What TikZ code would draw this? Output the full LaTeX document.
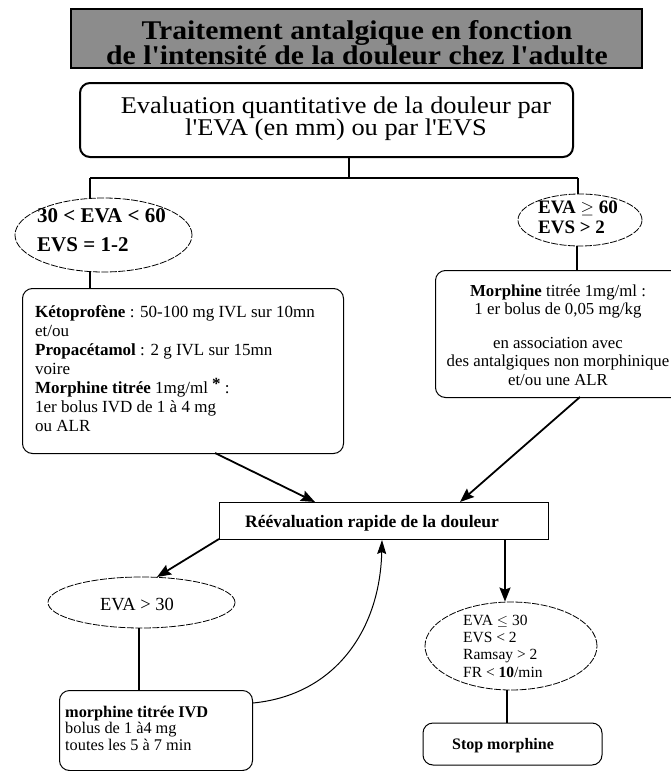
\documentclass[tikz,border=0pt]{standalone}
\usepackage{fontspec}
\setmainfont{Liberation Serif}
\newfontfamily\wideserif[FakeStretch=1.1]{Liberation Serif}
\usetikzlibrary{shapes.geometric,arrows.meta}
\begin{document}
\begin{tikzpicture}[x=1pt,y=-1pt,
  rbox/.style={draw,rounded corners=10pt,line width=1pt,inner sep=0pt},
  ell/.style={draw,ellipse,line width=0.8pt,dash pattern=on 7pt off 1.5pt,inner sep=0pt},
  conn/.style={line width=1.8pt},
  arr/.style={line width=1.8pt,-{Stealth[length=14pt,width=11pt,inset=2pt]}},
  arrthin/.style={line width=1pt,-{Stealth[length=14pt,width=9pt,inset=2pt]}},
  txt/.style={inner sep=0pt,anchor=base west,align=left},
  ctxt/.style={inner sep=0pt,anchor=base,align=center}]
\useasboundingbox (0,0) rectangle (671,771);
% title
\node[draw,line width=1.5pt,fill=black!45,minimum width=571pt,minimum height=59pt,inner sep=0pt] (title) at (356.5,38.5) {};
\node[ctxt,font=\wideserif\fontsize{27}{25}\selectfont\bfseries] (titletext) at (357,64)
  {Traitement antalgique en fonction\\de l'intensité de la douleur chez l'adulte};
% top box
\node[rbox,line width=2pt,minimum width=493pt,minimum height=74pt] (eval) at (326.5,120) {};
\node[ctxt,font=\wideserif\fontsize{24}{22}\selectfont] (evaltext) at (336,135)
  {Evaluation quantitative de la douleur par\\l'EVA (en mm) ou par l'EVS};
% ellipses
\node[ell,minimum width=177pt,minimum height=74pt] (e1) at (103.5,235) {};
\node[txt,font=\fontsize{21}{29}\selectfont\bfseries] (e1t) at (37,251) {30 < EVA < 60\\EVS = 1-2};
\node[ell,minimum width=124pt,minimum height=52pt] (e2) at (580,220) {};
\node[txt,font=\fontsize{19}{20}\selectfont\bfseries] (e2t) at (538,233) {EVA $\geq$ 60\\EVS > 2};
% junction
\coordinate (j0) at (349,178);
\coordinate (jl) at (90,178);
\coordinate (jr) at (578,178);
\draw[conn] (eval.south -| j0) -- (j0);
\draw[conn] (jl) -- (jr);
\draw[conn] (jl) -- (jl |- e1.north);
\draw[conn] (jr) -- (jr |- e2.north);
% left box
\node[rbox,minimum width=321pt,minimum height=165pt,anchor=north west] (b1) at (22,288) {};
\node[txt,font=\fontsize{17}{19}\selectfont] (t1) at (35,431)
  {\textbf{Kétoprofène} : 50-100 mg IVL sur 10mn\\
   et/ou\\
   \textbf{Propacétamol} : 2 g IVL sur 15mn\\
   voire\\
   \textbf{Morphine titrée} 1mg/ml \raisebox{4pt}{\textbf{*}} :\\
   1er bolus IVD de 1 à 4 mg\\
   ou ALR};
\draw[conn] (e1.south -| jl) -- (b1.north -| jl);
% right box
\node[rbox,minimum width=255pt,minimum height=127pt,anchor=north west] (b2) at (435,270) {};
\node[ctxt,font=\fontsize{16.8}{18.5}\selectfont] (t2) at (558,385)
  {\textbf{Morphine} titrée 1mg/ml :\\
   1 er bolus de 0,05 mg/kg\\[15pt]
   en association avec\\
   des antalgiques non morphinique\\
   et/ou une ALR};
\draw[conn] (e2.south -| 577,0) -- (b2.north -| 577,0);
% reevaluation box
\node[draw,line width=1pt,minimum width=329pt,minimum height=37pt,inner sep=0pt] (re) at (383.5,520.5) {};
\node[ctxt,font=\fontsize{17.5}{19}\selectfont\bfseries] (ret) at (372,527) {Réévaluation rapide de la douleur};
\coordinate (a1s) at (215,453);
\coordinate (a1e) at (315,502);
\coordinate (a2s) at (580,397);
\coordinate (a2e) at (460,502);
\draw[arr] (a1s) -- (a1e);
\draw[arr] (a2s) -- (a2e);
% EVA > 30
\node[ell,minimum width=187pt,minimum height=51pt] (e3) at (141.5,602.5) {};
\node[ctxt,font=\fontsize{18.5}{20}\selectfont] (e3t) at (137,610) {EVA > 30};
\coordinate (a3s) at (219,539);
\draw[arr] (a3s) -- (157,577);
% morphine box
\node[rbox,minimum width=193pt,minimum height=80pt,anchor=north west] (b3) at (59,690) {};
\node[txt,font=\fontsize{16.3}{16.5}\selectfont] (t3) at (65,750)
  {\textbf{morphine titrée IVD}\\bolus de 1 à4 mg\\toutes les 5 à 7 min};
\draw[conn] (e3.south -| 139,0) -- (b3.north -| 139,0);
% curved return
\coordinate (cend) at (382,540);
\draw[arrthin] (b3.east |- 0,703) .. controls (335,695) and (380,630) .. (cend);
% right ellipse
\node[ell,minimum width=172pt,minimum height=88pt] (e4) at (511,646) {};
\node[txt,font=\fontsize{15.5}{17.3}\selectfont] (e4t) at (463,677)
  {EVA $\leq$ 30\\EVS < 2\\Ramsay > 2\\FR < \textbf{10}/min};
\coordinate (a4s) at (505,539);
\draw[arr] (a4s) -- (a4s |- e4.north);
% stop
\node[rbox,minimum width=179pt,minimum height=42pt] (stop) at (512.5,744) {};
\node[ctxt,font=\fontsize{16}{18}\selectfont\bfseries] (stopt) at (503,749) {Stop morphine};
\draw[conn] (e4.south -| 507,0) -- (stop.north -| 507,0);
\end{tikzpicture}
\end{document}
